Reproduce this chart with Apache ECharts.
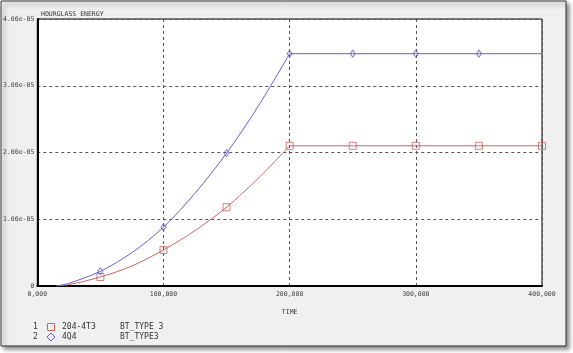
<!DOCTYPE html>
<html>
<head>
<meta charset="utf-8">
<script src="https://cdn.jsdelivr.net/npm/echarts@6/dist/echarts.min.js"></script>
<style>
  html, body { margin: 0; padding: 0; background: #fff; }
  #main { width: 573px; height: 353px; }
</style>
</head>
<body>
<div id="main"></div>
<script>
// values (time, energy)
var riseTimes  = [15000, 25000, 50000, 75000, 100000, 125000, 150000, 175000, 200000];
var redRise    = [0, 2e-7, 1.35e-6, 3.0e-6, 5.4e-6, 8.3e-6, 1.18e-5, 1.61e-5, 2.1e-5];
var blueRise   = [0, 4e-7, 2.2e-6, 5.0e-6, 8.8e-6, 1.39e-5, 1.99e-5, 2.69e-5, 3.48e-5];
var flatTimes  = [200000, 250000, 300000, 350000, 400000];
var redFlat    = [2.1e-5, 2.1e-5, 2.1e-5, 2.1e-5, 2.1e-5];
var blueFlat   = [3.48e-5, 3.48e-5, 3.48e-5, 3.48e-5, 3.48e-5];
var redMarkTimes  = [50000, 100000, 150000, 200000, 250000, 300000, 350000, 400000];
var blueMarkTimes = [50000, 100000, 150000, 200000, 250000, 300000, 350000];
var legendRows = [
    ['1', '204-4T3', 'BT_TYPE 3'],
    ['2', '4Q4', 'BT_TYPE3']
];

var FONT = '"DejaVu Sans Mono", monospace';
var RED = '#cc6262';
var BLUE = '#6262c8';

function pairs(xs, ys) {
    var out = [];
    for (var i = 0; i < xs.length; i++) out.push([xs[i], ys[i]]);
    return out;
}
function marks(times, rise, flat) {
    return times.map(function (t) {
        var i = riseTimes.indexOf(t);
        return [t, i >= 0 ? rise[i] : flat[flatTimes.indexOf(t)]];
    });
}

var myChart = echarts.init(document.getElementById('main'));

var option = {
    animation: false,
    title: {
        text: 'HOURGLASS ENERGY',
        left: 36, top: 6,
        textStyle: { fontSize: 6.5, fontWeight: 'normal', color: '#333', fontFamily: FONT }
    },
    grid: {
        left: 37, right: 31, top: 19, bottom: 67,
        show: true, backgroundColor: '#fff', borderColor: '#000', borderWidth: 1
    },
    xAxis: {
        type: 'value', min: 0, max: 400000, interval: 100000,
        name: 'TIME', nameLocation: 'middle', nameGap: 23,
        nameTextStyle: { fontSize: 6.5, color: '#333', fontFamily: FONT },
        axisLine: { lineStyle: { color: '#000', width: 2 } },
        axisTick: { show: false },
        axisLabel: {
            fontSize: 6.5, color: '#444', fontFamily: FONT, margin: 5,
            formatter: function (v) { return v === 0 ? '0,000' : (v / 1000) + ',000'; }
        },
        splitLine: { lineStyle: { color: '#555', type: [3, 3], width: 1 } }
    },
    yAxis: {
        type: 'value', min: 0, max: 4e-5, interval: 1e-5,
        axisLine: { show: true, lineStyle: { color: '#000', width: 2 } },
        axisTick: { show: false },
        axisLabel: {
            fontSize: 6.5, color: '#444', fontFamily: FONT, margin: 3,
            formatter: function (v) {
                if (v === 0) return '0';
                return v.toExponential(2).replace(/e-(\d)$/, 'e-0$1');
            }
        },
        splitLine: { lineStyle: { color: '#555', type: [3, 3], width: 1 } }
    },
    graphic: [
        {
            type: 'rect', z: -100,
            shape: { x: 1, y: 1, width: 565, height: 345 },
            style: {
                fill: '#f0f0f0', stroke: '#333', lineWidth: 1,
                shadowColor: 'rgba(0,0,0,0.45)', shadowBlur: 4, shadowOffsetX: 3, shadowOffsetY: 3
            }
        }
    ].concat(legendRows.map(function (row, i) {
        var y = 327 + i * 10;
        var ts = { fill: '#333', font: '8px ' + FONT, verticalAlign: 'middle' };
        return {
            type: 'group',
            children: [
                { type: 'text', x: 33, y: y, style: Object.assign({ text: row[0] }, ts) },
                { type: 'text', x: 62, y: y, style: Object.assign({ text: row[1] }, ts) },
                { type: 'text', x: 120, y: y, style: Object.assign({ text: row[2] }, ts) },
                i === 0
                    ? { type: 'rect', shape: { x: 47.5, y: y - 3.5, width: 7, height: 7 }, style: { fill: 'none', stroke: RED, lineWidth: 1 } }
                    : { type: 'polygon', shape: { points: [[51, y - 4], [55, y], [51, y + 4], [47, y]] }, style: { fill: 'none', stroke: BLUE, lineWidth: 1 } }
            ]
        };
    })),
    series: [
        {
            type: 'line', data: pairs(riseTimes, redRise), smooth: 0.3,
            showSymbol: false, lineStyle: { color: RED, width: 1 }
        },
        {
            type: 'line', data: pairs(flatTimes, redFlat), showSymbol: false,
            lineStyle: { color: RED, width: 1 }
        },
        {
            type: 'line', data: pairs(riseTimes, blueRise), smooth: 0.3,
            showSymbol: false, lineStyle: { color: BLUE, width: 1 }
        },
        {
            type: 'line', data: pairs(flatTimes, blueFlat), showSymbol: false,
            lineStyle: { color: BLUE, width: 1 }
        },
        {
            type: 'scatter', data: marks(redMarkTimes, redRise, redFlat), symbol: 'rect', symbolSize: 7,
            itemStyle: { color: 'rgba(255,255,255,0)', borderColor: RED, borderWidth: 1 }
        },
        {
            type: 'scatter', data: marks(blueMarkTimes, blueRise, blueFlat), symbol: 'diamond', symbolSize: [5, 7],
            itemStyle: { color: 'rgba(255,255,255,0)', borderColor: BLUE, borderWidth: 1 }
        }
    ]
};

myChart.setOption(option);
</script>
</body>
</html>
